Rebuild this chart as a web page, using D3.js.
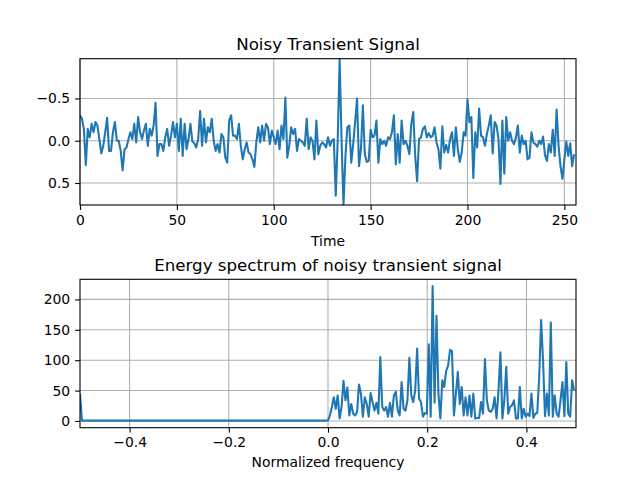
<!DOCTYPE html>
<html><head><meta charset="utf-8">
<script src="https://cdn.jsdelivr.net/npm/d3@7"></script>
<style>body{margin:0;background:#fff}svg{display:block}text{font-family:"DejaVu Sans",sans-serif;fill:#000}</style>
</head><body><svg id="c" width="640" height="480"></svg>
<script>
// ---- data ----
const signal = [
-0.30,-0.26,-0.14,0.29,-0.14,-0.04,-0.20,-0.10,-0.22,-0.18,-0.02,0.15,0.06,-0.10,-0.27,0.12,
0.12,-0.10,-0.22,0.00,0.00,0.12,0.35,0.10,0.08,-0.02,-0.10,-0.02,-0.20,0.02,-0.28,-0.10,
-0.02,-0.12,-0.20,0.06,-0.14,-0.06,-0.18,-0.45,0.18,0.04,0.04,0.12,-0.04,-0.14,0.06,-0.06,
-0.22,-0.04,-0.20,0.12,-0.26,0.18,-0.20,0.10,-0.02,-0.20,0.01,0.03,0.08,-0.02,-0.35,0.06,
-0.26,0.02,-0.16,-0.10,-0.26,0.00,0.12,0.04,0.14,-0.08,-0.04,0.20,0.26,-0.24,-0.30,-0.06,
-0.06,-0.02,-0.20,0.06,0.22,0.10,0.02,0.14,0.16,0.22,0.31,0.02,-0.16,0.02,-0.18,0.00,
-0.20,-0.16,0.04,-0.12,-0.04,0.04,-0.12,0.10,-0.18,-0.02,-0.51,0.20,0.06,-0.16,-0.08,-0.14,
0.12,-0.02,0.00,0.02,0.06,-0.26,0.10,-0.04,0.00,0.22,-0.24,0.16,0.06,0.02,0.04,0.08,
-0.04,0.06,0.00,-0.02,0.65,0.00,-0.97,0.00,0.76,0.18,-0.16,-0.18,0.26,0.04,-0.22,-0.50,
0.30,0.10,-0.42,0.16,0.25,0.24,-0.13,-0.04,-0.06,-0.24,0.26,-0.02,0.04,0.00,0.06,-0.04,
-0.02,-0.10,-0.30,0.28,-0.08,0.26,-0.24,0.04,0.00,0.06,0.16,-0.20,-0.34,0.18,0.48,-0.02,
-0.04,-0.14,-0.17,-0.04,-0.09,-0.04,-0.06,-0.16,0.02,0.10,0.33,-0.17,0.14,0.05,0.14,-0.02,
-0.10,0.18,-0.16,0.10,0.25,0.14,-0.10,-0.06,-0.49,-0.22,-0.28,0.44,-0.10,0.08,-0.38,-0.06,
-0.04,0.06,-0.08,-0.18,-0.30,0.15,-0.22,-0.18,-0.02,0.51,-0.24,0.39,-0.28,0.00,-0.10,0.00,
0.04,-0.04,-0.18,0.14,-0.06,0.04,0.00,0.22,0.20,-0.10,0.02,0.04,0.07,0.00,0.04,-0.05,
0.17,0.24,0.04,0.14,-0.13,0.18,-0.37,0.06,0.30,0.45,0.22,0.01,0.18,0.03,0.30,0.16
];
const spectrumNeg = [
45,0.5,0.5,0.5,0.5,0.5,0.5,0.5,0.5,0.5,0.5,0.5,0.5,0.5,0.5,0.5,
0.5,0.5,0.5,0.5,0.5,0.5,0.5,0.5,0.5,0.5,0.5,0.5,0.5,0.5,0.5,0.5,
0.5,0.5,0.5,0.5,0.5,0.5,0.5,0.5,0.5,0.5,0.5,0.5,0.5,0.5,0.5,0.5,
0.5,0.5,0.5,0.5,0.5,0.5,0.5,0.5,0.5,0.5,0.5,0.5,0.5,0.5,0.5,0.5,
0.5,0.5,0.5,0.5,0.5,0.5,0.5,0.5,0.5,0.5,0.5,0.5,0.5,0.5,0.5,0.5,
0.5,0.5,0.5,0.5,0.5,0.5,0.5,0.5,0.5,0.5,0.5,0.5,0.5,0.5,0.5,0.5,
0.5,0.5,0.5,0.5,0.5,0.5,0.5,0.5,0.5,0.5,0.5,0.5,0.5,0.5,0.5,0.5,
0.5,0.5,0.5,0.5,0.5,0.5,0.5,0.5,0.5,0.5,0.5,0.5,0.5,0.5,0.5,0.5
];
const spectrumPos = [
1,9,23,39,20,42,4,23,66,34,55,9,28,12,9,15,
60,45,7,39,28,7,46,31,17,30,12,105,23,17,23,7,
30,7,42,48,17,9,64,20,17,34,104,42,31,50,119,37,
31,7,13,12,126,7,222,30,173,45,4,67,56,83,91,117,
115,9,45,81,28,56,9,39,9,42,7,45,4,5,5,31,
12,102,34,17,15,20,39,4,50,113,4,34,89,12,23,26,
34,4,4,56,4,20,7,12,8,45,5,12,13,72,166,99,
8,45,9,162,7,42,12,7,34,64,8,97,12,7,67,50
];
const topXTicks = [0, 50, 100, 150, 200, 250];
const topYTicks = [-0.5, 0, 0.5];
const botXTicks = [-0.4, -0.2, 0, 0.2, 0.4];
const botYTicks = [0, 50, 100, 150, 200];
const topTitle = "Noisy Transient Signal";
const topXLabel = "Time";
const botTitle = "Energy spectrum of noisy transient signal";
const botXLabel = "Normalized frequency";

// ---- drawing ----
const svg = d3.select("#c");
const L = 80, R = 576;
const color = "#1f77b4";
const tickLen = 4.9, tickPad = 4.9;

function panel(opts) {
  const {top, bottom, x, y, data, xTicks, yTicks, xFmt, yFmt, title, xlabel, xlabelY, id} = opts;
  const g = svg.append("g");
  // grid
  g.append("g").selectAll("line").data(xTicks).join("line")
    .attr("x1", d => x(d)).attr("x2", d => x(d)).attr("y1", top).attr("y2", bottom)
    .attr("stroke", "#b0b0b0").attr("stroke-width", 1.1);
  g.append("g").selectAll("line").data(yTicks).join("line")
    .attr("y1", d => y(d)).attr("y2", d => y(d)).attr("x1", L).attr("x2", R)
    .attr("stroke", "#b0b0b0").attr("stroke-width", 1.1);
  // clip
  svg.append("clipPath").attr("id", id).append("rect")
    .attr("x", L).attr("y", top).attr("width", R - L).attr("height", bottom - top);
  g.append("path").datum(data)
    .attr("clip-path", `url(#${id})`)
    .attr("fill", "none").attr("stroke", color).attr("stroke-width", 2.08)
    .attr("stroke-linejoin", "round").attr("stroke-linecap", "butt")
    .attr("d", d3.line().x(d => x(d[0])).y(d => y(d[1])));
  // axes
  const ax = g.append("g").attr("transform", `translate(0,${bottom})`)
    .call(d3.axisBottom(x).tickValues(xTicks).tickFormat(xFmt).tickSize(tickLen).tickPadding(tickPad));
  const ay = g.append("g").attr("transform", `translate(${L},0)`)
    .call(d3.axisLeft(y).tickValues(yTicks).tickFormat(yFmt).tickSize(tickLen).tickPadding(tickPad));
  [ax, ay].forEach(a => {
    a.select(".domain").remove();
    a.selectAll(".tick line").attr("stroke", "#000").attr("stroke-width", 1.1);
    a.selectAll(".tick text").attr("font-size", 13.9).attr("font-family", "DejaVu Sans").attr("fill", "#000");
  });
  g.append("rect").attr("x", L).attr("y", top).attr("width", R - L).attr("height", bottom - top)
    .attr("fill", "none").attr("stroke", "#000").attr("stroke-width", 1.1);
  g.append("text").attr("x", (L + R) / 2).attr("y", top - 8.3).attr("text-anchor", "middle")
    .attr("font-size", 16.67).text(title);
  g.append("text").attr("x", (L + R) / 2).attr("y", xlabelY).attr("text-anchor", "middle")
    .attr("font-size", 13.9).text(xlabel);
}

// top: time signal, inverted y axis
const sigPts = signal.map((v, i) => [i, v]);
const ext = d3.extent(signal);
const xTop = d3.scaleLinear().domain([0, 256]).range([L, R]);
const yTop = d3.scaleLinear().domain([ext[0], ext[1]]).range([58.7, 205]);
panel({top: 58.7, bottom: 205, x: xTop, y: yTop, data: sigPts,
  xTicks: topXTicks, yTicks: topYTicks, xFmt: d3.format("d"), yFmt: d3.format(".1f"),
  title: topTitle, xlabel: topXLabel, xlabelY: 246, id: "clipTop"});

// bottom: spectrum
const spectrum = spectrumNeg.concat(spectrumPos);
const N = spectrum.length;
const specPts = spectrum.map((v, i) => [-0.5 + i / N, v]);
const smax = d3.max(spectrum), smin = 0;
const pad = (smax - smin) * 0.05;
const xBot = d3.scaleLinear().domain([-0.5, 0.5]).range([L, R]);
const yBot = d3.scaleLinear().domain([smin - pad, smax + pad]).range([427.7, 279.3]);
panel({top: 279.3, bottom: 427.7, x: xBot, y: yBot, data: specPts,
  xTicks: botXTicks, yTicks: botYTicks, xFmt: d3.format(".1f"), yFmt: d3.format("d"),
  title: botTitle, xlabel: botXLabel, xlabelY: 467, id: "clipBot"});
</script></body></html>
